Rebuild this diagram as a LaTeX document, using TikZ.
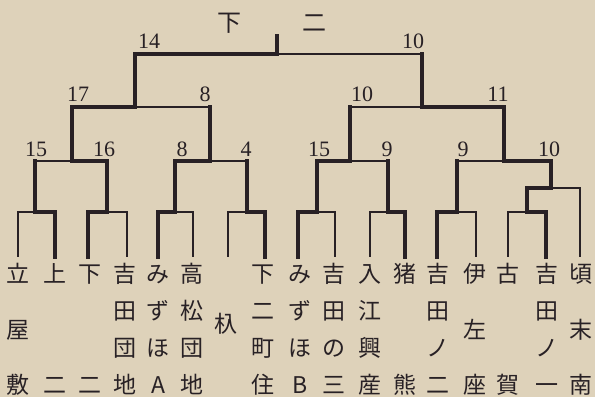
\documentclass[tikz,border=0pt]{standalone}
\usepackage{fontspec}
\newfontfamily\jpfont{Noto Sans CJK JP}
\newfontfamily\numfont{Liberation Serif}
\definecolor{paper}{RGB}{222,210,186}
\definecolor{ink}{RGB}{40,33,37}
\newcommand\rowA{282.7}
\newcommand\rowB{319.7}
\newcommand\rowC{356.7}
\newcommand\rowD{393.7}
\newcommand\rowM{338.2}
% match: parent, winner, loser (leaf)
\newcommand\matchleaf[3]{%
  \draw[winline] (#1) -| (#2);
  \draw[loseline] (#1) -| (#3);}
% match: parent, winner, loser (sub-bracket)
\newcommand\matchnode[3]{%
  \draw[winline] (#1) -| (#2);
  \draw[loseline] (#1) -- (#1 -| #3);
  \draw[winline] (#3) -- (#1 -| #3);}
\begin{document}
\begin{tikzpicture}[x=1pt,y=-1pt,
  winline/.style={draw=ink,line width=3.6pt,line cap=rect,line join=miter},
  loseline/.style={draw=ink,line width=1.7pt},
  num/.style={text=ink,anchor=base,inner sep=0pt,font=\numfont\fontsize{22}{25}\selectfont},
  jp/.style={text=ink,anchor=base,inner sep=0pt,font=\jpfont\fontsize{23}{28}\selectfont},
  top/.style={text=ink,anchor=base,inner sep=0pt,font=\jpfont\fontsize{24}{28}\selectfont}]
\fill[paper] (0,0) rectangle (595,397);
\useasboundingbox (0,0) rectangle (595,397);
% leaves (bottom ends of the leaf lines)
\foreach \i/\x in {1/18,2/55,3/88,4/127,5/158,6/193,7/228,8/265,9/298,10/335,11/370,12/405,13/437,14/476,15/508,16/546,17/580}
  \coordinate (lf\i) at (\x,257);
% match points
\foreach \n/\x in {A/35,B/107,C/175,D/247,E/317,F/388,G/457,H/527}
  \coordinate (m\n) at (\x,212);
\coordinate (mI) at (551,188);
\foreach \n/\x in {J/72,K/210,L/350,M/504}
  \coordinate (m\n) at (\x,161);
\coordinate (mN) at (135,107);
\coordinate (mO) at (422,107);
\coordinate (mR) at (277,54);
\coordinate (mT) at (277,36);
% first round
\matchleaf{mA}{lf2}{lf1}
\matchleaf{mB}{lf3}{lf4}
\matchleaf{mC}{lf5}{lf6}
\matchleaf{mD}{lf8}{lf7}
\matchleaf{mE}{lf9}{lf10}
\matchleaf{mF}{lf12}{lf11}
\matchleaf{mG}{lf13}{lf14}
\matchleaf{mH}{lf16}{lf15}
\matchleaf{mI}{mH}{lf17}
% later rounds
\matchnode{mJ}{mB}{mA}
\matchnode{mK}{mC}{mD}
\matchnode{mL}{mE}{mF}
\matchnode{mM}{mI}{mG}
\matchnode{mN}{mJ}{mK}
\matchnode{mO}{mM}{mL}
\matchnode{mR}{mN}{mO}
\draw[winline,line width=4.4pt] (mR) -- (mT);
% winner
\node[top] (w1) at (229,31) {下};
\node[top] (w2) at (314,31) {二};
% scores
\foreach \nm/\x/\y/\s in {s1/149/48/14, s2/413/48/10,
  s3/78/101/17, s4/205/101/8, s5/362/101/10, s6/498/101/11,
  s7/36/156/15, s8/104/156/16, s9/182/156/8, s10/246/156/4,
  s11/319/156/15, s12/387/156/9, s13/463/156/9, s14/549/156/10}
  \node[num] (\nm) at (\x,\y) {\s};
% team names
\foreach \nm/\x/\y/\c in {
  t1a/18/\rowA/立, t1b/18/\rowM/屋, t1c/18/\rowD/敷,
  t2a/55/\rowA/上, t2b/55/\rowD/二,
  t3a/90/\rowA/下, t3b/90/\rowD/二,
  t4a/125/\rowA/吉, t4b/125/\rowB/田, t4c/125/\rowC/団, t4d/125/\rowD/地,
  t5a/158/\rowA/み, t5b/158/\rowB/ず, t5c/158/\rowC/ほ, t5d/158/\rowD/A,
  t6a/192/\rowA/高, t6b/192/\rowB/松, t6c/192/\rowC/団, t6d/192/\rowD/地,
  t7a/226/332.7/杁,
  t8a/263/\rowA/下, t8b/263/\rowB/二, t8c/263/\rowC/町, t8d/263/\rowD/住,
  t9a/300/\rowA/み, t9b/300/\rowB/ず, t9c/300/\rowC/ほ, t9d/300/\rowD/B,
  t10a/334/\rowA/吉, t10b/334/\rowB/田, t10c/334/\rowC/の, t10d/334/\rowD/三,
  t11a/370/\rowA/入, t11b/370/\rowB/江, t11c/370/\rowC/興, t11d/370/\rowD/産,
  t12a/405/\rowA/猪, t12b/405/\rowD/熊,
  t13a/438/\rowA/吉, t13b/438/\rowB/田, t13c/438/\rowC/ノ, t13d/438/\rowD/二,
  t14a/475/\rowA/伊, t14b/475/\rowM/左, t14c/475/\rowD/座,
  t15a/508/\rowA/古, t15b/508/\rowD/賀,
  t16a/547/\rowA/吉, t16b/547/\rowB/田, t16c/547/\rowC/ノ, t16d/547/\rowD/一,
  t17a/581/\rowA/頃, t17b/581/\rowM/末, t17c/581/\rowD/南}
  \node[jp] (\nm) at (\x,\y) {\c};
\end{tikzpicture}
\end{document}
